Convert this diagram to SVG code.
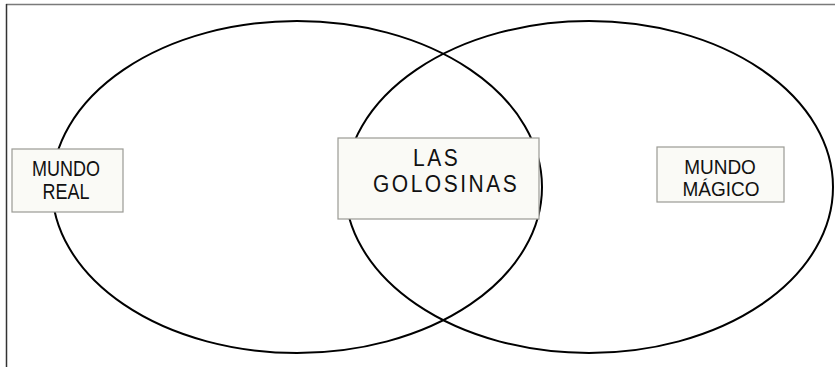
<svg xmlns="http://www.w3.org/2000/svg" width="835" height="367" viewBox="0 0 835 367">
  <style>
    .ring { fill: none; stroke: #000; stroke-width: 2; }
    .box { fill: #fafaf6; stroke: #9a9a94; stroke-width: 1.2; }
    .lbl { font-family: "Liberation Sans", Arial, sans-serif; fill: #111; }
  </style>
  <rect width="835" height="367" fill="#fff"/>
  <g id="frame">
    <line x1="6" y1="4.5" x2="835" y2="4.5" stroke="#7a7a7a" stroke-width="1.5"/>
    <line x1="6.5" y1="4" x2="6.5" y2="367" stroke="#333" stroke-width="1.5"/>
  </g>
  <g id="connectors"></g>
  <g id="set-real">
    <ellipse class="ring" cx="297" cy="187" rx="245" ry="166"/>
  </g>
  <g id="set-magico">
    <ellipse class="ring" cx="589" cy="187" rx="244" ry="166"/>
  </g>
  <g id="node-mundo-real">
    <rect class="box" x="12" y="149" width="111" height="63"/>
    <text class="lbl" font-size="18" text-anchor="middle" transform="translate(66,176) scale(1,1.2)">MUNDO</text>
    <text class="lbl" font-size="18" text-anchor="middle" transform="translate(66,199) scale(1,1.2)">REAL</text>
  </g>
  <g id="node-golosinas">
    <rect class="box" x="338" y="138" width="201" height="81"/>
    <text class="lbl" font-size="21" letter-spacing="2.5" transform="translate(413,166) scale(1,1.1)">LAS</text>
    <text class="lbl" font-size="21" letter-spacing="2.5" transform="translate(373,192) scale(1,1.1)">GOLOSINAS</text>
  </g>
  <g id="node-mundo-magico">
    <rect class="box" x="657" y="147" width="127" height="55"/>
    <text class="lbl" font-size="19" text-anchor="middle" transform="translate(720,174) scale(1,1.07)">MUNDO</text>
    <text class="lbl" font-size="19" text-anchor="middle" transform="translate(721,196) scale(1,1.07)">MÁGICO</text>
  </g>
</svg>
